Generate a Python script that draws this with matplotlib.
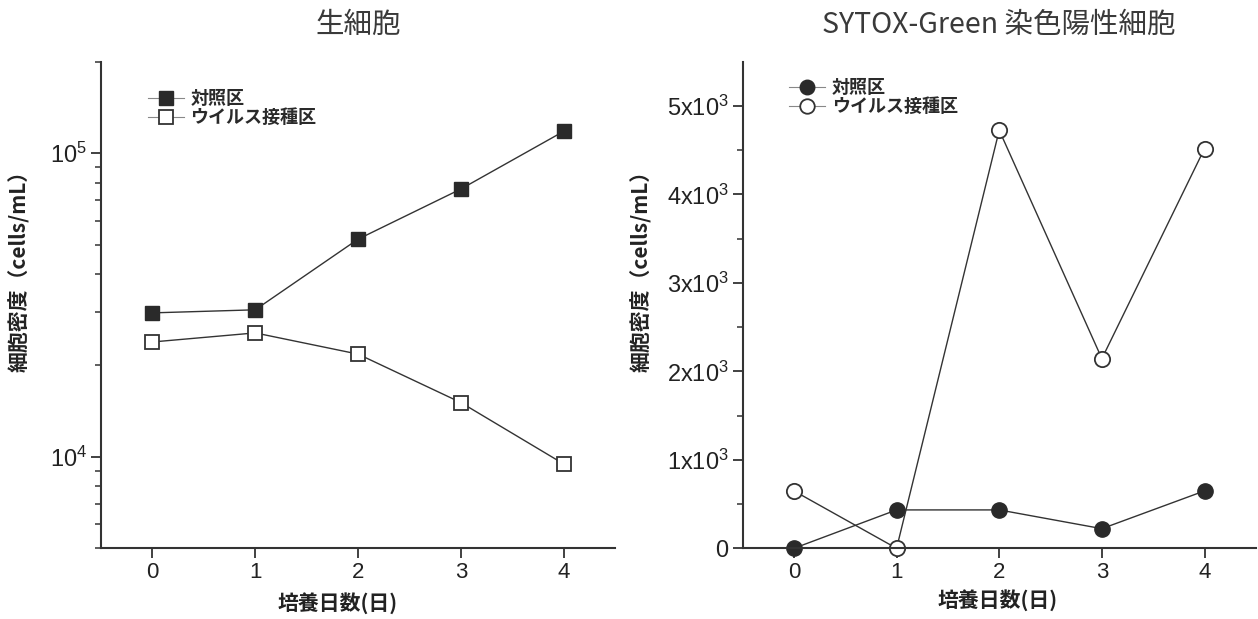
"""
Viable cells and SYTOX-Green positive cells, control vs virus inoculated
"""

import math
import matplotlib
matplotlib.use("Agg")
from matplotlib import pyplot as plt
from matplotlib.ticker import LogLocator, NullFormatter, FixedLocator, FuncFormatter

days = [0, 1, 2, 3, 4]
day_ticks = ["0", "1", "2", "3", "4"]

# live cells (cells/mL)
live_control = [29800, 30500, 52100, 76200, 118000]
live_virus = [23900, 25600, 21800, 15100, 9480]

# SYTOX-Green stained cells (cells/mL)
sytox_control = [0, 434, 434, 222, 649]
sytox_virus = [649, 0, 4726, 2144, 4519]
sytox_ticks = [0, 1000, 2000, 3000, 4000, 5000]

labels = ["対照区", "ウイルス接種区"]

JP = ["Noto Sans CJK JP", "DejaVu Sans"]
NUM = ["Liberation Sans Narrow", "Liberation Sans", "DejaVu Sans"]
INK = "#333333"

plt.rcParams["mathtext.fontset"] = "custom"
plt.rcParams["mathtext.rm"] = "Liberation Sans Narrow"


def style_axes(ax):
    for side in ["top", "right"]:
        ax.spines[side].set_visible(False)
    for side in ["left", "bottom"]:
        ax.spines[side].set_linewidth(1.5)
        ax.spines[side].set_color(INK)
    ax.tick_params(which="major", length=7, width=1.3, color=INK,
                   labelcolor="#222222", pad=3)
    ax.tick_params(axis="y", labelsize=17)
    ax.tick_params(axis="x", labelsize=16)
    ax.tick_params(which="minor", length=4, width=1.1, color=INK)
    ax.tick_params(axis="x", which="minor", bottom=False)
    ax.set_xlim(-0.5, 4.5)
    ax.set_xticks(days)
    ax.set_xticklabels(day_ticks, family=NUM)
    for lab in ax.get_yticklabels():
        lab.set_family(NUM)
    ax.set_xlabel("培養日数(日)", family=JP, fontsize=15, fontweight="bold",
                  color="#222222")
    ax.set_ylabel("細胞密度（cells/mL）", family=JP, fontsize=15, fontweight="bold",
                  color="#222222")


def add_legend(ax, y):
    leg = ax.legend(loc="upper left", bbox_to_anchor=(0.07, y), frameon=False,
                    prop={"family": JP, "weight": "bold", "size": 13},
                    handlelength=2.0, handletextpad=0.35, labelspacing=0.0,
                    markerscale=0.95, borderaxespad=0.2)
    for line in leg.get_lines():
        line.set_linewidth(0.8)
        line.set_color("#888888")
    for txt in leg.get_texts():
        txt.set_color("#2a2a2a")


def main():
    fig = plt.figure(figsize=(12.58, 6.19), dpi=100)
    ax1 = fig.add_axes([0.0803, 0.1142, 0.4086, 0.786])
    ax2 = fig.add_axes([0.5903, 0.1142, 0.408, 0.786])

    # left: live cells, log scale
    ax1.plot(days, live_control, color=INK, lw=1.0, marker="s", ms=10,
             mfc="#2a2a2a", mec="#2a2a2a", label=labels[0])
    ax1.plot(days, live_virus, color=INK, lw=1.0, marker="s", ms=10,
             mfc="white", mec=INK, mew=1.3, label=labels[1])
    ax1.set_yscale("log")
    ax1.set_ylim(5000, 200000)
    ax1.yaxis.set_major_locator(LogLocator(base=10, numticks=10))
    ax1.yaxis.set_minor_locator(LogLocator(base=10, subs=range(2, 10), numticks=20))
    ax1.yaxis.set_minor_formatter(NullFormatter())
    ax1.yaxis.set_major_formatter(FuncFormatter(
        lambda v, p: r"$\mathregular{10^{%d}}$" % round(math.log10(v))))
    style_axes(ax1)
    ax1.xaxis.set_label_coords(0.461, -0.09)
    ax1.yaxis.set_label_coords(-0.137, 0.58)
    ax1.set_title("生細胞", family=JP, fontsize=20.5, color="#3a3a3a", pad=21)
    add_legend(ax1, 0.966)

    # right: SYTOX-Green positive cells, linear scale
    ax2.plot(days, sytox_control, color=INK, lw=1.0, marker="o", ms=11,
             mfc="#2a2a2a", mec="#2a2a2a", label=labels[0], clip_on=False)
    ax2.plot(days, sytox_virus, color=INK, lw=1.0, marker="o", ms=11,
             mfc="white", mec=INK, mew=1.3, label=labels[1], clip_on=False)
    ax2.set_ylim(0, 5500)
    ax2.yaxis.set_major_locator(FixedLocator(sytox_ticks))
    ax2.yaxis.set_minor_locator(FixedLocator([500, 1500, 2500, 3500, 4500]))
    ax2.yaxis.set_major_formatter(FuncFormatter(
        lambda v, p: "0" if v == 0 else r"$\mathregular{%dx10^{3}}$" % round(v / 1000)))
    style_axes(ax2)
    ax2.xaxis.set_label_coords(0.497, -0.083)
    ax2.yaxis.set_label_coords(-0.177, 0.58)
    ax2.set_title("SYTOX-Green 染色陽性細胞", family=JP, fontsize=20.5, color="#3a3a3a", pad=21)
    add_legend(ax2, 0.989)

    fig.savefig("out.png", dpi=100)


if __name__ == "__main__":
    main()
